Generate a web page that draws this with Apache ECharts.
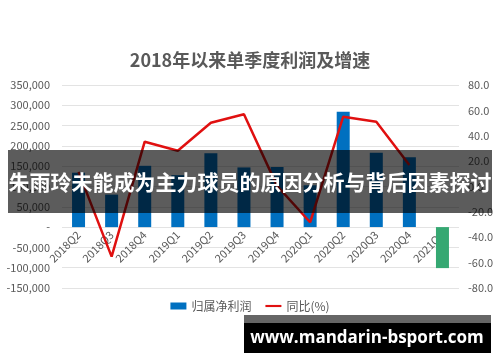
<!DOCTYPE html>
<html><head><meta charset="utf-8">
<script src="https://cdn.jsdelivr.net/npm/echarts@6/dist/echarts.min.js"></script>
<style>html,body{margin:0;padding:0;background:#fff}#c{width:500px;height:362px}</style>
</head><body><div id="c"></div>
<script>
const categories = ['2018Q2','2018Q3','2018Q4','2019Q1','2019Q2','2019Q3','2019Q4','2020Q1','2020Q2','2020Q3','2020Q4','2021Q1'];
const profit = [134000, 80000, 151000, 128000, 182000, 147000, 148000, 103000, 284000, 183000, 172000, -101000];
const yoy = [11.5, -55.3, 35.3, 28.2, 50.2, 57.0, 0.5, -28.2, 55.0, 51.0, 17.0, null];
const leftTicks = {min: -150000, max: 350000, interval: 50000};
const rightTicks = {min: -80, max: 80, interval: 20};
const titleText = '2018年以来单季度利润及增速';
const bannerText = '朱雨玲未能成为主力球员的原因分析与背后因素探讨';
const watermarkText = 'www.mandarin-bsport.com';

const FONT = '"Noto Sans CJK SC", "Noto Sans", sans-serif';
const gridTop = 85, gridBottom = 74, gridH = 362 - gridTop - gridBottom;
const zeroOffset = -Math.round((0 - leftTicks.min) / (leftTicks.max - leftTicks.min) * gridH);
const chart = echarts.init(document.getElementById('c'), null, {renderer: 'canvas'});
chart.setOption({
  animation: false,
  textStyle: {fontFamily: FONT},
  title: {text: titleText, left: 'center', top: 46,
    textStyle: {fontSize: 18, fontWeight: 'bold', color: '#595959', fontFamily: FONT}},
  legend: {bottom: 45, left: 'center', itemGap: 14, itemWidth: 16, itemHeight: 7,
    textStyle: {fontSize: 12, color: '#595959', fontFamily: FONT},
    data: [{name: '归属净利润', icon: 'rect'}, {name: '同比(%)', icon: 'path://M0,0h18v2.4h-18z'}]},
  grid: {left: 62, right: 41, top: gridTop, bottom: gridBottom, containLabel: false},
  xAxis: {type: 'category', data: categories, position: 'bottom', offset: zeroOffset,
    axisLine: {show: false, onZero: false},
    axisTick: {show: false},
    axisLabel: {rotate: 45, fontSize: 11, color: '#595959', margin: 6, interval: 0, fontFamily: FONT}},
  yAxis: [
    {type: 'value', min: leftTicks.min, max: leftTicks.max, interval: leftTicks.interval,
      axisLine: {show: false}, axisTick: {show: false},
      splitLine: {lineStyle: {color: '#e3e3e3'}},
      axisLabel: {fontSize: 11, color: '#595959', margin: 12,
        formatter: v => v === 0 ? '-' : v.toLocaleString('en-US')}},
    {type: 'value', min: rightTicks.min, max: rightTicks.max, interval: rightTicks.interval,
      axisLine: {show: false}, axisTick: {show: false}, splitLine: {show: false},
      axisLabel: {fontSize: 11, color: '#595959', margin: 9, formatter: v => v.toFixed(1)}}
  ],
  series: [
    {name: '归属净利润', type: 'bar', yAxisIndex: 0, barWidth: 13,
      itemStyle: {color: '#0070c0'},
      data: profit.map(v => v < 0 ? {value: v, itemStyle: {color: '#35a872'}} : v)},
    {name: '同比(%)', type: 'line', yAxisIndex: 1, symbol: 'none', showSymbol: false,
      lineStyle: {color: '#e01010', width: 2.5}, itemStyle: {color: '#e01010'},
      data: yoy}
  ],
  graphic: [
    {type: 'rect', shape: {x: 8, y: 150, width: 484, height: 63}, style: {fill: 'rgba(0,0,0,0.64)'}, z: 100},
    {type: 'text', x: 250, y: 182, z: 101, style: {text: bannerText, fill: '#fff', font: 'bold 21px ' + FONT, textAlign: 'center', textVerticalAlign: 'middle'}},
    {type: 'rect', shape: {x: 244, y: 315, width: 247, height: 8}, style: {fill: 'rgba(0,0,0,0.6)'}, z: 100},
    {type: 'rect', shape: {x: 244, y: 323, width: 247, height: 30}, style: {fill: '#000'}, z: 100},
    {type: 'text', x: 367, y: 338, z: 101, style: {text: watermarkText, fill: '#fff', font: 'bold 17px "Open Sans", "DejaVu Sans", sans-serif', textAlign: 'center', textVerticalAlign: 'middle'}}
  ]
});
</script></body></html>
